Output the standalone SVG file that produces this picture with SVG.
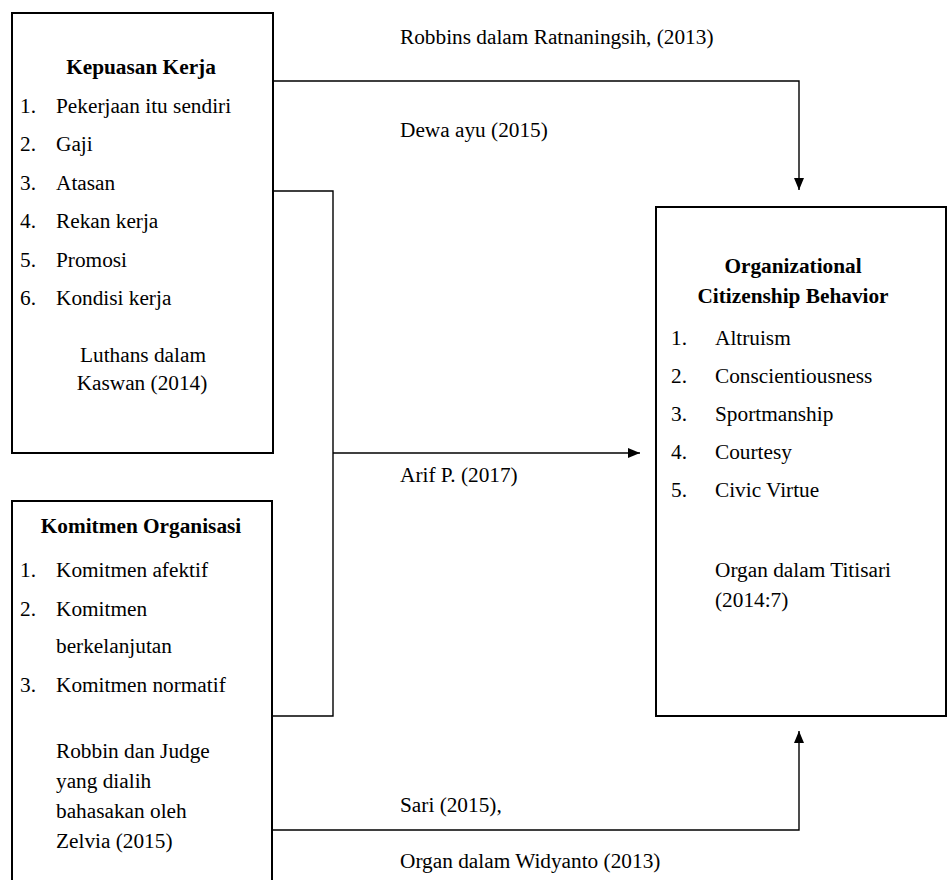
<svg xmlns="http://www.w3.org/2000/svg" width="947" height="880" viewBox="0 0 947 880" font-family="Liberation Serif, Times New Roman, serif" font-size="21.3">
<style>
.t{font-weight:bold;text-anchor:middle}
.c{text-anchor:middle}
.box{fill:#fff;stroke:#000;stroke-width:2}
.ln{fill:none;stroke:#000;stroke-width:1.4}
</style>
<defs>
<marker id="ah" viewBox="0 0 12 10" refX="12" refY="5" markerWidth="12" markerHeight="10" markerUnits="userSpaceOnUse" orient="auto">
<path d="M0,0 L12,5 L0,10 Z" fill="#000"/>
</marker>
</defs>
<rect width="947" height="880" fill="#fff"/>
<g id="connectors">
<polyline class="ln" points="273,81 799,81 799,190" marker-end="url(#ah)"/>
<polyline class="ln" points="273,191 333,191 333,716 272,716"/>
<line class="ln" x1="333" y1="453" x2="640" y2="453" marker-end="url(#ah)"/>
<polyline class="ln" points="272,830 799,830 799,731" marker-end="url(#ah)"/>
</g>
<g id="labels">
<text x="400" y="44">Robbins dalam Ratnaningsih, (2013)</text>
<text x="400" y="137">Dewa ayu (2015)</text>
<text x="400" y="482">Arif P. (2017)</text>
<text x="400" y="812">Sari (2015),</text>
<text x="400" y="868">Organ dalam Widyanto (2013)</text>
</g>
<g id="kepuasan-kerja">
<rect class="box" x="12" y="13" width="261" height="440"/>
<text class="t" x="141" y="74">Kepuasan Kerja</text>
<text x="20" y="113">1.</text><text x="56" y="113">Pekerjaan itu sendiri</text>
<text x="20" y="151">2.</text><text x="56" y="151">Gaji</text>
<text x="20" y="190">3.</text><text x="56" y="190">Atasan</text>
<text x="20" y="228">4.</text><text x="56" y="228">Rekan kerja</text>
<text x="20" y="267">5.</text><text x="56" y="267">Promosi</text>
<text x="20" y="305">6.</text><text x="56" y="305">Kondisi kerja</text>
<text class="c" x="143" y="362">Luthans dalam</text>
<text class="c" x="142" y="390">Kaswan (2014)</text>
</g>
<g id="komitmen-organisasi">
<rect class="box" x="12" y="501" width="260" height="400"/>
<text class="t" x="141" y="533">Komitmen Organisasi</text>
<text x="20" y="577">1.</text><text x="56" y="577">Komitmen afektif</text>
<text x="20" y="616">2.</text><text x="56" y="616">Komitmen</text>
<text x="56" y="653">berkelanjutan</text>
<text x="20" y="692">3.</text><text x="56" y="692">Komitmen normatif</text>
<text x="56" y="758">Robbin dan Judge</text>
<text x="56" y="788">yang dialih</text>
<text x="56" y="818">bahasakan oleh</text>
<text x="56" y="848">Zelvia (2015)</text>
</g>
<g id="ocb">
<rect class="box" x="656" y="207" width="290" height="509"/>
<text class="t" x="793" y="273">Organizational</text>
<text class="t" x="793" y="303">Citizenship Behavior</text>
<text x="671" y="345">1.</text><text x="715" y="345">Altruism</text>
<text x="671" y="383">2.</text><text x="715" y="383">Conscientiousness</text>
<text x="671" y="421">3.</text><text x="715" y="421">Sportmanship</text>
<text x="671" y="459">4.</text><text x="715" y="459">Courtesy</text>
<text x="671" y="497">5.</text><text x="715" y="497">Civic Virtue</text>
<text x="715" y="577">Organ dalam Titisari</text>
<text x="715" y="607">(2014:7)</text>
</g>
</svg>
